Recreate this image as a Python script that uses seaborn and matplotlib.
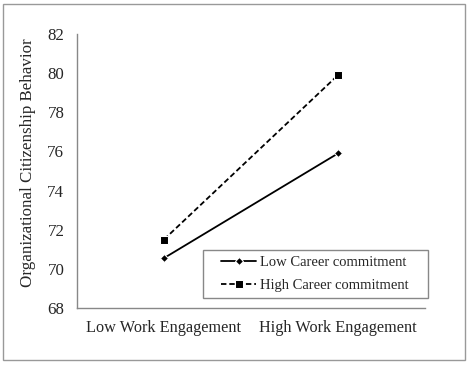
import numpy as np
import pandas as pd
import matplotlib
matplotlib.use("Agg")
import matplotlib.pyplot as plt
import seaborn as sb
from matplotlib.patches import Rectangle

engagement = ["Low Work Engagement", "High Work Engagement"]
groups = ["Low Career commitment", "High Career commitment"]
low_career = [70.55, 75.9]
high_career = [71.5, 79.9]

sb.set_style("white")
plt.rcParams['font.family'] = ['Liberation Serif', 'DejaVu Serif']

df = pd.DataFrame({
    "x": [0, 1, 0, 1],
    "ocb": low_career + high_career,
    "group": [groups[0]] * 2 + [groups[1]] * 2,
})

W, H = 469, 365
fig = plt.figure(figsize=(W / 100, H / 100), dpi=100)
ax = fig.add_axes([77 / W, 57 / H, 348 / W, 274 / H])

sb.lineplot(data=df, x="x", y="ocb", hue="group", style="group",
            palette=["black", "black"],
            markers={groups[0]: "D", groups[1]: "s"},
            dashes={groups[0]: "", groups[1]: (3, 1.6)},
            markersize=5, linewidth=1.3, ax=ax)
for ln in ax.lines:
    if ln.get_marker() == "D":
        ln.set_markersize(4)
    else:
        ln.set_markersize(5.5)

ax.set_xlim(-0.5, 1.5)
ax.set_ylim(68, 82)
ax.set_yticks(np.arange(68, 83, 2))
ax.set_xticks([-0.5, 0.5, 1.5])
ax.set_xticklabels([])
ax.set_xticks([0, 1], minor=True)
ax.set_xticklabels(engagement, minor=True, fontsize=11.7)
ax.tick_params(axis="x", which="minor", length=0, pad=9)
ax.tick_params(axis="x", which="major", length=3.5, direction="out", color="#888888")
ax.tick_params(axis="y", length=3.6, direction="out", color="#888888", labelsize=12.2, pad=5.5)
ax.set_xlabel("")
ax.set_ylabel("Organizational Citizenship Behavior", fontsize=12.2)
ax.yaxis.set_label_coords(-0.118, 0.531)
for s in ["top", "right"]:
    ax.spines[s].set_visible(False)
for s in ["left", "bottom"]:
    ax.spines[s].set_color("#888888")
    ax.spines[s].set_linewidth(1)

leg = ax.legend(loc="lower right", bbox_to_anchor=(0.969, 0.036), borderaxespad=0,
                fontsize=10.5, frameon=False,
                handlelength=2.4, borderpad=0.4, labelspacing=0.7, handletextpad=0.25)

# legend box with wider side padding, like the original
fig.canvas.draw()
bb = leg.get_window_extent()
fig.add_artist(Rectangle((bb.x0 - 12, bb.y0), bb.width + 26, bb.height,
                         transform=None, fill=False, edgecolor="#888888", linewidth=1))

fig.add_artist(Rectangle((3 / W, 5 / H), 462 / W, 356 / H,
                         transform=fig.transFigure, fill=False,
                         edgecolor="#999999", linewidth=1))

fig.savefig("out.png", dpi=100)
